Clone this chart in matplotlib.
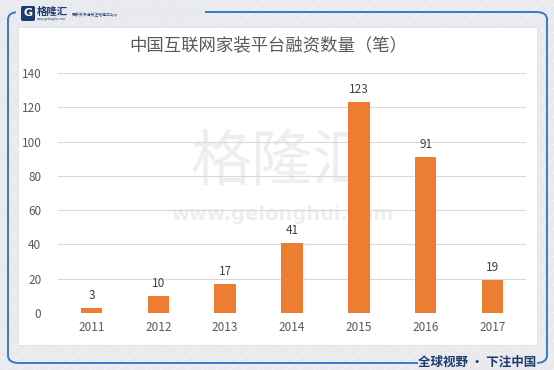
import matplotlib
matplotlib.use("Agg")
import matplotlib.pyplot as plt
from matplotlib.patches import FancyBboxPatch, Rectangle

plt.rcParams['font.family'] = ['Noto Sans CJK SC', 'DejaVu Sans']

years = ['2011', '2012', '2013', '2014', '2015', '2016', '2017']
counts = [3, 10, 17, 41, 123, 91, 19]
title = '中国互联网家装平台融资数量（笔）'
yticks = [0, 20, 40, 60, 80, 100, 120, 140]

W, H = 554, 370
fig = plt.figure(figsize=(W / 100, H / 100), dpi=100)
fig.patch.set_facecolor('#e8eaed')

def fx(px): return px / W
def fy(py): return 1 - py / H

# diagonal light stripes in background
bg = fig.add_axes([0, 0, 1, 1], zorder=-10)
bg.set_xlim(0, W); bg.set_ylim(H, 0); bg.axis('off')
for k in range(-400, 1000, 14):
    bg.plot([k, k + 370], [H, 0], color='white', lw=0.6, alpha=0.5)

# blue rounded frame
frame = FancyBboxPatch((fx(8), fy(363)), fx(547) - fx(8), fy(12) - fy(363),
                       boxstyle='round,pad=0,rounding_size=0.02',
                       transform=fig.transFigure, facecolor='none',
                       edgecolor='#3a78c9', lw=1.4, zorder=-5)
fig.patches.append(frame)
# white panel
panel = Rectangle((fx(18), fy(345)), fx(537) - fx(18), fy(27) - fy(345),
                  transform=fig.transFigure, facecolor='white',
                  edgecolor='#dddddd', lw=0.5, zorder=-4)
fig.patches.append(panel)
# cover frame behind logo and slogan
fig.patches.append(Rectangle((fx(16), fy(20)), fx(205) - fx(16), fy(4) - fy(20),
                             transform=fig.transFigure, facecolor='#e8eaed',
                             edgecolor='none', zorder=-3))
fig.patches.append(Rectangle((fx(418), fy(372)), fx(537) - fx(418), fy(352) - fy(372),
                             transform=fig.transFigure, facecolor='#e8eaed',
                             edgecolor='none', zorder=-3))

# logo
fig.patches.append(FancyBboxPatch((fx(21), fy(21)), fx(14), fy(6) - fy(21),
                                  boxstyle='round,pad=0,rounding_size=0.004',
                                  transform=fig.transFigure, facecolor='#1d3b6e',
                                  edgecolor='none', zorder=-2))
fig.text(fx(28), fy(13.5), 'G', color='white', fontsize=8, fontweight='bold',
         ha='center', va='center', family='DejaVu Sans')
fig.text(fx(37), fy(11.5), '格隆汇', color='#1d3b6e', fontsize=7.5, fontweight='bold',
         ha='left', va='center')
fig.text(fx(37), fy(19), 'www.gelonghui.com', color='#1d3b6e', fontsize=2.2,
         ha='left', va='center')
fig.text(fx(72), fy(15), '更多资讯请关注格隆汇App', color='#1d3b6e', fontsize=2.8,
         ha='left', va='center')

# slogan
fig.text(fx(477), fy(362), '全球视野 • 下注中国', color='#1d3b6e', fontsize=9,
         fontweight='bold', ha='center', va='center')

# title
fig.text(fx(268), fy(45), title, color='#595959', fontsize=12.5,
         ha='center', va='center')

# watermark
fig.text(fx(282), fy(163), '格隆汇', color='#eeeeee', fontsize=44,
         ha='center', va='center', zorder=-1)
fig.text(fx(282), fy(215), 'www.gelonghui.com', color='#eeeeee', fontsize=14,
         ha='center', va='center', fontweight='bold', family='DejaVu Sans', zorder=-1)

ax = fig.add_axes([fx(58), fy(313), fx(526) - fx(58), fy(73) - fy(313)])
ax.patch.set_alpha(0)
x = range(len(years))
bars = ax.bar(x, counts, width=0.32, color='#ED7D31', zorder=3)
for xi, v in zip(x, counts):
    ax.text(xi, v + 3.5, str(v), ha='center', va='bottom', color='#404040', fontsize=8.5)
ax.set_xlim(-0.5, len(years) - 0.5)
ax.set_ylim(0, 140)
ax.set_yticks(yticks)
ax.set_yticklabels([str(t) for t in yticks])
ax.set_xticks(list(x))
ax.set_xticklabels(years)
ax.tick_params(axis='both', length=0, colors='#595959', labelsize=8.5)
ax.tick_params(axis='y', pad=12)
ax.tick_params(axis='x', pad=6)
ax.grid(axis='y', color='#d9d9d9', lw=0.8, zorder=0)
for s in ax.spines.values():
    s.set_visible(False)

fig.savefig('out.png', dpi=100)
